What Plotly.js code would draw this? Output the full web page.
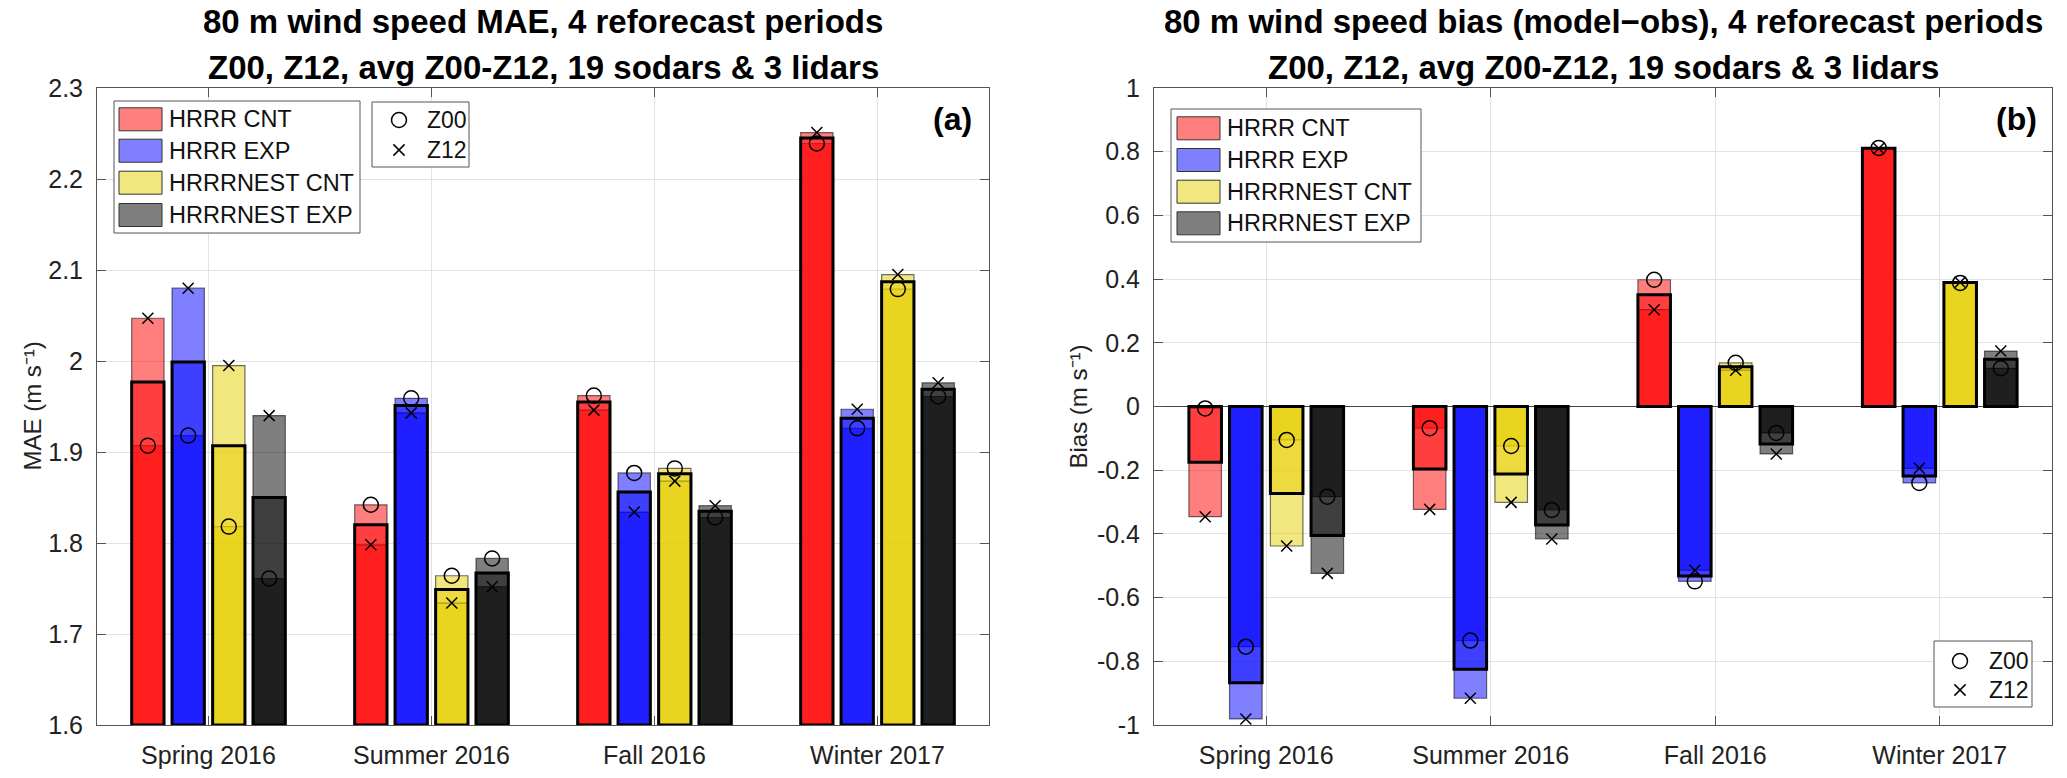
<!DOCTYPE html>
<html>
<head>
<meta charset="utf-8">
<script src="https://cdn.plot.ly/plotly-3.0.1.min.js"></script>
<style>
  html, body { margin: 0; padding: 0; background: #ffffff; }
  #chart { width: 2067px; height: 778px; }
</style>
</head>
<body>
<div id="chart"></div>
<script>
// ---------------- DATA ----------------
const categories = ['Spring 2016', 'Summer 2016', 'Fall 2016', 'Winter 2017'];
const models = ['HRRR CNT', 'HRRR EXP', 'HRRRNEST CNT', 'HRRRNEST EXP'];
const cycles = ['Z00', 'Z12'];

// Panel (a): 80 m wind speed MAE (m/s); rows = models, cols = categories
const maeZ00 = [
  [1.907, 1.842, 1.962, 2.239],
  [1.918, 1.959, 1.877, 1.926],
  [1.818, 1.764, 1.882, 2.079],
  [1.761, 1.783, 1.828, 1.961]
];
const maeZ12 = [
  [2.047, 1.798, 1.946, 2.251],
  [2.080, 1.943, 1.834, 1.947],
  [1.995, 1.734, 1.868, 2.095],
  [1.940, 1.752, 1.841, 1.976]
];
const maeAvg = [
  [1.977, 1.820, 1.955, 2.245],
  [1.999, 1.951, 1.856, 1.937],
  [1.907, 1.749, 1.876, 2.087],
  [1.850, 1.767, 1.835, 1.969]
];

// Panel (b): 80 m wind speed bias (model-obs) (m/s)
const biasZ00 = [
  [-0.006, -0.068, 0.398, 0.812],
  [-0.754, -0.735, -0.549, -0.240],
  [-0.105, -0.124, 0.137, 0.388],
  [-0.283, -0.325, -0.083, 0.120]
];
const biasZ12 = [
  [-0.346, -0.323, 0.304, 0.810],
  [-0.981, -0.916, -0.514, -0.194],
  [-0.438, -0.301, 0.114, 0.390],
  [-0.524, -0.416, -0.149, 0.174]
];
const biasAvg = [
  [-0.175, -0.196, 0.351, 0.811],
  [-0.867, -0.825, -0.532, -0.218],
  [-0.273, -0.212, 0.125, 0.389],
  [-0.405, -0.372, -0.118, 0.148]
];

const maeTickVals = [1.6, 1.7, 1.8, 1.9, 2.0, 2.1, 2.2, 2.3];
const maeTickText = ['1.6', '1.7', '1.8', '1.9', '2', '2.1', '2.2', '2.3'];
const biasTickVals = [-1, -0.8, -0.6, -0.4, -0.2, 0, 0.2, 0.4, 0.6, 0.8, 1];
const biasTickText = ['-1', '-0.8', '-0.6', '-0.4', '-0.2', '0', '0.2', '0.4', '0.6', '0.8', '1'];

const titleA = ['80 m wind speed MAE, 4 reforecast periods', 'Z00, Z12, avg Z00-Z12, 19 sodars & 3 lidars'];
const titleB = ['80 m wind speed bias (model\u2212obs), 4 reforecast periods', 'Z00, Z12, avg Z00-Z12, 19 sodars & 3 lidars'];
const yTitleA = 'MAE (m s\u207B\u00B9)';
const yTitleB = 'Bias (m s\u207B\u00B9)';

// ---------------- STYLE ----------------
const W = 2067, H = 778;
const FONT = 'Liberation Sans, Arial, Helvetica, sans-serif';
const baseRGB = [[255, 0, 0], [0, 0, 255], [229, 205, 0], [0, 0, 0]];
const fillA = c => `rgba(${c[0]},${c[1]},${c[2]},0.5)`;
const offsets = [-0.272, -0.091, 0.091, 0.272];
const barW = 0.145;
const px = x => x / W;
const py = y => 1 - y / H;

const panels = [
  { xa: 'x', ya: 'y', z00: maeZ00, z12: maeZ12, avg: maeAvg, base: 1.6 },
  { xa: 'x2', ya: 'y2', z00: biasZ00, z12: biasZ12, avg: biasAvg, base: 0 }
];

const traces = [];
panels.forEach((p, pi) => {
  models.forEach((m, mi) => {
    const xs = categories.map((c, ci) => ci + 1 + offsets[mi]);
    const fill = fillA(baseRGB[mi]);
    [p.z00[mi], p.z12[mi]].forEach((vals, k) => {
      traces.push({
        type: 'bar', x: xs, y: vals.map(v => v - p.base), base: p.base,
        width: barW, xaxis: p.xa, yaxis: p.ya, showlegend: false,
        name: m + ' ' + cycles[k],
        marker: { color: fill, line: { color: 'rgba(0,0,0,0.55)', width: 1.2 } },
        hoverinfo: 'skip'
      });
    });
    traces.push({
      type: 'bar', x: xs, y: p.avg[mi].map(v => v - p.base), base: p.base,
      width: barW, xaxis: p.xa, yaxis: p.ya, showlegend: false,
      name: m + ' avg',
      marker: { color: fill, line: { color: '#000000', width: 3 } },
      hoverinfo: 'skip'
    });
  });
  // markers
  const mx = [], y00 = [], y12 = [];
  models.forEach((m, mi) => {
    categories.forEach((c, ci) => {
      mx.push(ci + 1 + offsets[mi]);
      y00.push(p.z00[mi][ci]);
      y12.push(p.z12[mi][ci]);
    });
  });
  traces.push({
    type: 'scatter', mode: 'markers', x: mx, y: y00, xaxis: p.xa, yaxis: p.ya,
    name: cycles[0], showlegend: false, cliponaxis: false,
    marker: { symbol: 'circle-open', size: 15, color: '#000', line: { width: 1.5, color: '#000' } }
  });
  traces.push({
    type: 'scatter', mode: 'markers', x: mx, y: y12, xaxis: p.xa, yaxis: p.ya,
    name: cycles[1], showlegend: false, cliponaxis: false,
    marker: { symbol: 'x-thin-open', size: 11, color: '#000', line: { width: 1.5, color: '#000' } }
  });
});

const axisCommon = {
  showgrid: true, gridcolor: '#e2e2e2', gridwidth: 1,
  ticks: 'inside', ticklen: 9, tickwidth: 1, tickcolor: '#555',
  showline: true, linecolor: '#555', linewidth: 1, mirror: 'ticks',
  tickfont: { family: FONT, size: 25, color: '#222' },
  zeroline: false, fixedrange: true
};

const yDom = [1 - 725 / H, 1 - 88 / H];

const layout = {
  width: W, height: H,
  margin: { l: 0, r: 0, t: 0, b: 0 },
  paper_bgcolor: '#fff', plot_bgcolor: '#fff',
  barmode: 'overlay',
  font: { family: FONT, color: '#222' },
  showlegend: false,
  xaxis: Object.assign({}, axisCommon, {
    domain: [px(97), px(989)], range: [0.5, 4.5], anchor: 'y',
    tickvals: categories.map((c, i) => i + 1), ticktext: categories, ticklabelstandoff: 8
  }),
  yaxis: Object.assign({}, axisCommon, {
    domain: yDom, range: [1.6, 2.3], anchor: 'x',
    tickvals: maeTickVals, ticktext: maeTickText, ticklabelstandoff: 8
  }),
  xaxis2: Object.assign({}, axisCommon, {
    domain: [px(1154), px(2052)], range: [0.5, 4.5], anchor: 'y2',
    tickvals: categories.map((c, i) => i + 1), ticktext: categories, ticklabelstandoff: 8
  }),
  yaxis2: Object.assign({}, axisCommon, {
    domain: yDom, range: [-1, 1], anchor: 'x2',
    tickvals: biasTickVals, ticktext: biasTickText, ticklabelstandoff: 8,
    zeroline: true, zerolinecolor: '#444', zerolinewidth: 1.5
  }),
  annotations: [],
  shapes: []
};

// Titles
[[titleA, 543], [titleB, 1603]].forEach(([t, cx]) => {
  t.forEach((line, li) => {
    layout.annotations.push({
      xref: 'paper', yref: 'paper', x: px(cx), y: py(li === 0 ? 22 : 67),
      xanchor: 'center', yanchor: 'middle', showarrow: false,
      text: '<b>' + line + '</b>', font: { family: FONT, size: 33, color: '#000' }
    });
  });
});
// Y titles
[[yTitleA, 32], [yTitleB, 1078]].forEach(([t, cx]) => {
  layout.annotations.push({
    xref: 'paper', yref: 'paper', x: px(cx), y: py(406.5),
    xanchor: 'center', yanchor: 'middle', showarrow: false, textangle: -90,
    text: t, font: { family: FONT, size: 24, color: '#222' }
  });
});
// Panel labels
[['(a)', 974], ['(b)', 2039]].forEach(([t, rx]) => {
  layout.annotations.push({
    xref: 'paper', yref: 'paper', x: px(rx), y: py(119),
    xanchor: 'right', yanchor: 'middle', showarrow: false,
    text: '<b>' + t + '</b>', font: { family: FONT, size: 32, color: '#000' }
  });
});

// Model legends (drawn boxes)
const legendBoxes = [
  { left: 114, top: 101, right: 360, bottom: 233, swL: 119, swR: 162, textX: 167, rows: [119.3, 150.7, 182.7, 215] },
  { left: 1171, top: 109, right: 1421, bottom: 242, swL: 1177, swR: 1220, textX: 1225, rows: [128.3, 160, 191.7, 223.3] }
];
legendBoxes.forEach(L => {
  layout.shapes.push({
    type: 'rect', xref: 'paper', yref: 'paper',
    x0: px(L.left), x1: px(L.right), y0: py(L.bottom), y1: py(L.top),
    fillcolor: '#fff', line: { color: '#555', width: 1 }
  });
  models.forEach((m, mi) => {
    const cy = L.rows[mi];
    layout.shapes.push({
      type: 'rect', xref: 'paper', yref: 'paper',
      x0: px(L.swL), x1: px(L.swR), y0: py(cy + 11.5), y1: py(cy - 11.5),
      fillcolor: fillA(baseRGB[mi]), line: { color: '#333', width: 1 }
    });
    layout.annotations.push({
      xref: 'paper', yref: 'paper', x: px(L.textX), y: py(cy),
      xanchor: 'left', yanchor: 'middle', showarrow: false,
      text: m, font: { family: FONT, size: 23.5, color: '#111' }
    });
  });
});

// Marker (cycle) legends
const markerLegends = [
  { left: 372, top: 102, right: 469, bottom: 167, symX: 399, textX: 425, rows: [120, 150] },
  { left: 1934, top: 641, right: 2032, bottom: 707, symX: 1960, textX: 1987, rows: [661, 690] }
];
markerLegends.forEach(L => {
  layout.shapes.push({
    type: 'rect', xref: 'paper', yref: 'paper',
    x0: px(L.left), x1: px(L.right), y0: py(L.bottom), y1: py(L.top),
    fillcolor: '#fff', line: { color: '#555', width: 1 }
  });
  const r = 7.5, h = 5.6;
  const cy0 = L.rows[0], cy1 = L.rows[1];
  layout.shapes.push({
    type: 'circle', xref: 'paper', yref: 'paper',
    x0: px(L.symX - r), x1: px(L.symX + r), y0: py(cy0 + r), y1: py(cy0 - r),
    line: { color: '#000', width: 1.5 }
  });
  layout.shapes.push({
    type: 'path', xref: 'paper', yref: 'paper',
    path: `M ${px(L.symX - h)} ${py(cy1 - h)} L ${px(L.symX + h)} ${py(cy1 + h)} M ${px(L.symX - h)} ${py(cy1 + h)} L ${px(L.symX + h)} ${py(cy1 - h)}`,
    line: { color: '#000', width: 1.5 }
  });
  cycles.forEach((c, k) => {
    layout.annotations.push({
      xref: 'paper', yref: 'paper', x: px(L.textX), y: py(L.rows[k]),
      xanchor: 'left', yanchor: 'middle', showarrow: false,
      text: c, font: { family: FONT, size: 23, color: '#111' }
    });
  });
});

Plotly.newPlot('chart', traces, layout, { displayModeBar: false, staticPlot: true });
</script>
</body>
</html>
